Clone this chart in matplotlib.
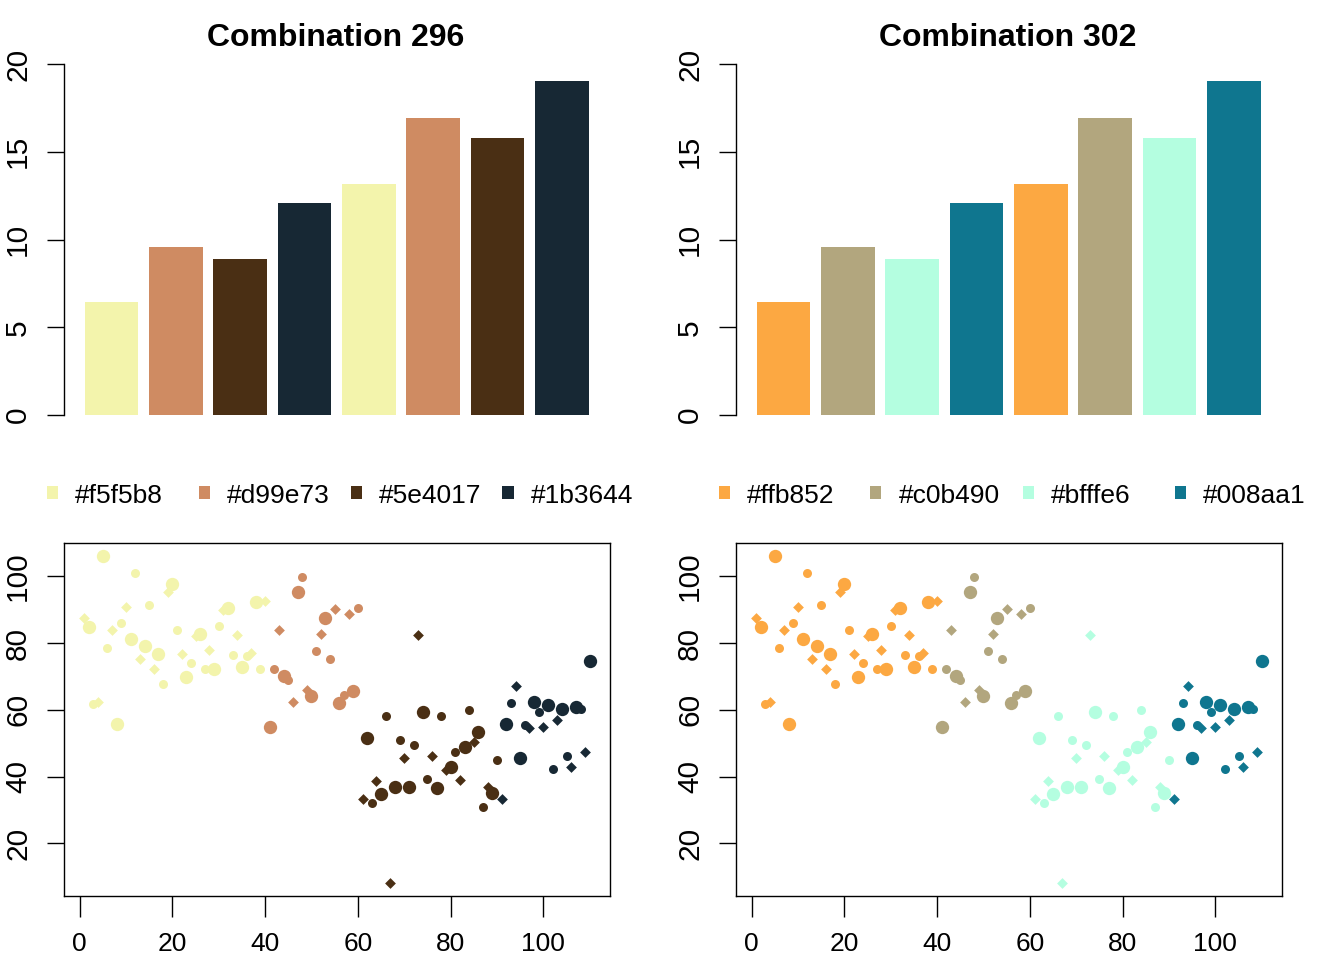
import matplotlib
matplotlib.use("Agg")
import matplotlib.pyplot as plt
from matplotlib import font_manager
from matplotlib.patches import Rectangle

# --- data -------------------------------------------------------------
bar_values = [6.45, 9.57, 8.89, 12.08, 13.16, 16.92, 15.78, 19.03]

titles = ["Combination 296", "Combination 302"]
legend_labels = [["#f5f5b8", "#d99e73", "#5e4017", "#1b3644"],
                 ["#ffb852", "#c0b490", "#bfffe6", "#008aa1"]]
# colours as they appear in the picture
palettes = [["#f3f4ac", "#cf8b62", "#4a2f14", "#172834"],
            ["#fca842", "#b2a67e", "#b4fee0", "#0f768f"]]

# scatter: x runs 1..110, group by x range, marker type cycles D / big / small
scatter_x = list(range(1, 111))
scatter_y = [
    87.4, 84.8, 61.7, 62.3, 106.1, 78.4, 83.9, 55.7, 86.0, 90.8,
    81.3, 100.9, 75.3, 79.0, 91.4, 72.3, 76.8, 67.8, 95.3, 97.6,
    83.8, 76.8, 69.7, 73.9, 82.0, 82.8, 72.3, 78.0, 72.3, 85.1,
    89.9, 90.6, 76.5, 82.3, 72.9, 76.2, 77.0, 92.3, 72.2, 92.5,
    54.8, 72.3, 83.8, 70.0, 69.0, 62.2, 95.3, 99.8, 65.8, 64.2,
    77.5, 82.8, 87.6, 75.3, 90.1, 62.0, 64.3, 88.8, 65.7, 90.4,
    33.4, 51.5, 32.1, 38.6, 34.9, 58.0, 8.1, 36.9, 51.1, 45.5,
    36.8, 49.6, 82.4, 59.3, 39.2, 46.2, 36.6, 58.0, 42.0, 43.0,
    47.5, 38.9, 49.0, 59.8, 50.3, 53.5, 30.8, 36.8, 35.2, 45.0,
    33.4, 55.8, 62.0, 67.0, 45.6, 55.5, 54.5, 62.2, 59.2, 55.0,
    61.5, 42.2, 57.0, 60.2, 46.2, 43.0, 60.8, 60.3, 47.5, 74.7,
]
group_breaks = [40, 60, 90, 110]   # last x of each colour group

# --- fonts ------------------------------------------------------------
installed = {f.name for f in font_manager.fontManager.ttflist}
if "Liberation Sans Narrow" in installed:
    narrow_font, narrow_size, title_size = "Liberation Sans Narrow", 23, 28
else:
    narrow_font, narrow_size, title_size = "Liberation Sans", 19, 23
plt.rcParams["font.family"] = ["Liberation Sans", "DejaVu Sans"]

W, H = 1344, 960
fig = plt.figure(figsize=(W / 100, H / 100), dpi=100)


def px_box(left, top, right, bottom):
    return [left / W, 1 - bottom / H, (right - left) / W, (bottom - top) / H]


def style_yaxis(ax):
    ax.tick_params(axis="y", length=12, width=1, pad=11, labelsize=21.5,
                   labelrotation=90)
    for lab in ax.get_yticklabels():
        lab.set_va("center")


for k, x0 in enumerate([64, 736]):
    cols = palettes[k]

    # 1. bar chart
    ax = fig.add_axes(px_box(x0, 50, x0 + 556, 429))
    pos = [0.7 + 1.2 * i for i in range(len(bar_values))]
    bar_cols = [cols[i % 4] for i in range(len(bar_values))]
    ax.bar(pos, bar_values, width=1.0, color=bar_cols)
    ax.set_xlim(-0.184, 10.184)
    ax.set_ylim(-0.8, 20.8)
    for s in ["top", "right", "bottom"]:
        ax.spines[s].set_visible(False)
    ax.spines["left"].set_bounds(0, 20)
    ax.spines["left"].set_linewidth(1)
    ax.set_xticks([])
    ax.set_yticks([0, 5, 10, 15, 20])
    style_yaxis(ax)
    fig.text((x0 + 272) / W, 1 - 46 / H, titles[k], ha="center", va="baseline",
             fontsize=title_size, fontweight="bold", family=narrow_font)

    # 2. legend row
    for j in range(4):
        cx = x0 - 12 + 152 * j
        fig.add_artist(Rectangle(((cx - 5.5) / W, 1 - 498.5 / H), 11 / W, 13 / H,
                                 transform=fig.transFigure, color=cols[j], lw=0))
        fig.text((cx + 23) / W, 1 - 503 / H, legend_labels[k][j], ha="left",
                 va="baseline", fontsize=narrow_size, family=narrow_font)

    # 3. scatter
    ax2 = fig.add_axes(px_box(x0, 543, x0 + 546, 896))
    start = 0
    for g, stop in enumerate(group_breaks):
        for i in range(start, stop):
            x, y = scatter_x[i], scatter_y[i]
            kind = x % 3
            if kind == 1:
                ax2.scatter(x, y, s=30, marker="D", color=cols[g], lw=0)
            elif kind == 2:
                ax2.scatter(x, y, s=92, marker="o", color=cols[g], lw=0)
            else:
                ax2.scatter(x, y, s=42, marker="o", color=cols[g], lw=0)
        start = stop
    xr = max(scatter_x) - min(scatter_x)
    yr = max(scatter_y) - min(scatter_y)
    ax2.set_xlim(min(scatter_x) - 0.04 * xr, max(scatter_x) + 0.04 * xr)
    ax2.set_ylim(min(scatter_y) - 0.04 * yr, max(scatter_y) + 0.04 * yr)
    for s in ax2.spines.values():
        s.set_linewidth(1)
    ax2.set_xticks([0, 20, 40, 60, 80, 100])
    ax2.set_yticks([20, 40, 60, 80, 100])
    ax2.tick_params(axis="x", length=15, width=1, pad=11, labelsize=narrow_size)
    for lab in ax2.get_xticklabels():
        lab.set_family(narrow_font)
    style_yaxis(ax2)

fig.savefig("out.png", dpi=100)
